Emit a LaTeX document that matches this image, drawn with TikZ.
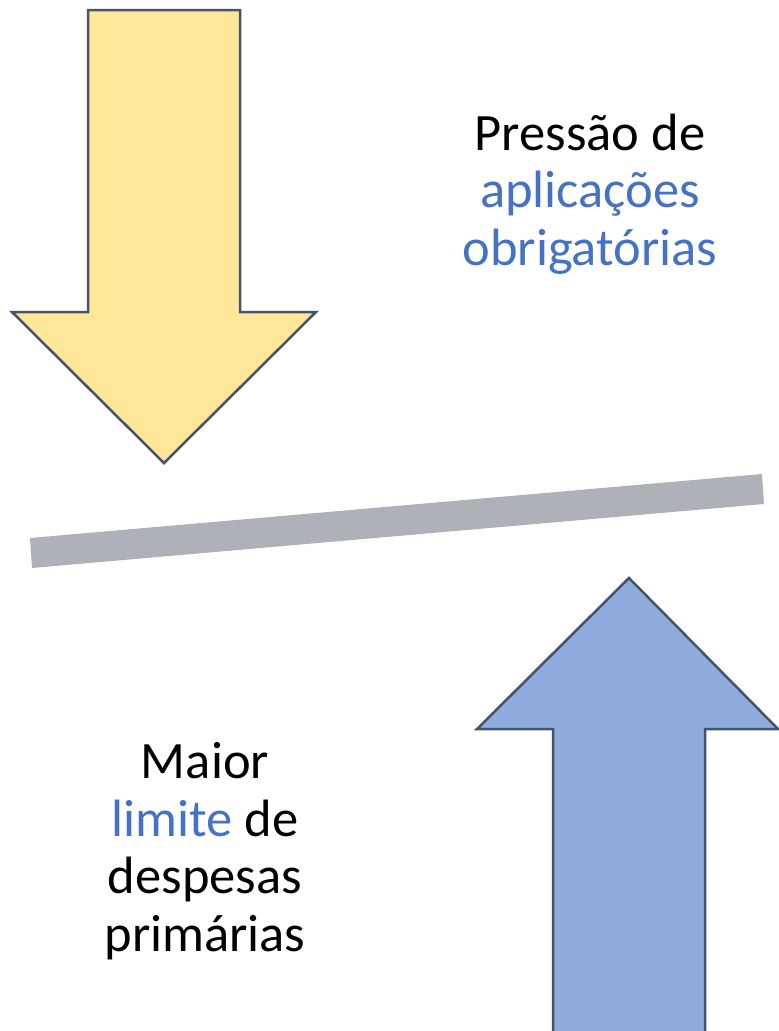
\documentclass[tikz,border=0pt]{standalone}
\usepackage{fontspec}
\setmainfont{Carlito}
\usepackage{xcolor}
\definecolor{arrowyellow}{HTML}{FFE699}
\definecolor{arrowblue}{HTML}{8FAADC}
\definecolor{arrowedge}{HTML}{44546A}
\definecolor{bargrey}{HTML}{AFB1B8}
\definecolor{textblue}{HTML}{4472C4}
\tikzset{
    arrow-shape/.style = {draw=arrowedge, line width=2.5pt, line join=miter},
    balance-bar/.style = {fill=bargrey},
    side-text/.style = {align=center, inner sep=0pt, anchor=base, font=\fontsize{52.5}{57.5}\selectfont},
}

\begin{document}
\begin{tikzpicture}[x=1pt, y=-1pt]
\clip (0,0) rectangle (779,1031);
\useasboundingbox (0,0) rectangle (779,1031);
% seta de cima
\filldraw[arrow-shape, fill=arrowyellow] (88,10) -- (240,10) -- (240,312) -- (316,312) -- (164,463) -- (12,312) -- (88,312) -- cycle;
% barra
\fill[balance-bar] (30,538) -- (762,474) -- (764,504) -- (32,568) -- cycle;
% seta de baixo
\filldraw[arrow-shape, fill=arrowblue] (553,1045) -- (553,729) -- (477,729) -- (629,578) -- (778,729) -- (705,729) -- (705,1045) -- cycle;
% textos (ancorados na linha de base da ultima linha)
\node[side-text] (pressure) at (590,265) {Pressão de\\\textcolor{textblue}{aplicações}\\\textcolor{textblue}{obrigatórias}};
\node[side-text] (limit) at (205,951) {Maior\\\textcolor{textblue}{limite} de\\despesas\\primárias};
\end{tikzpicture}
\end{document}
